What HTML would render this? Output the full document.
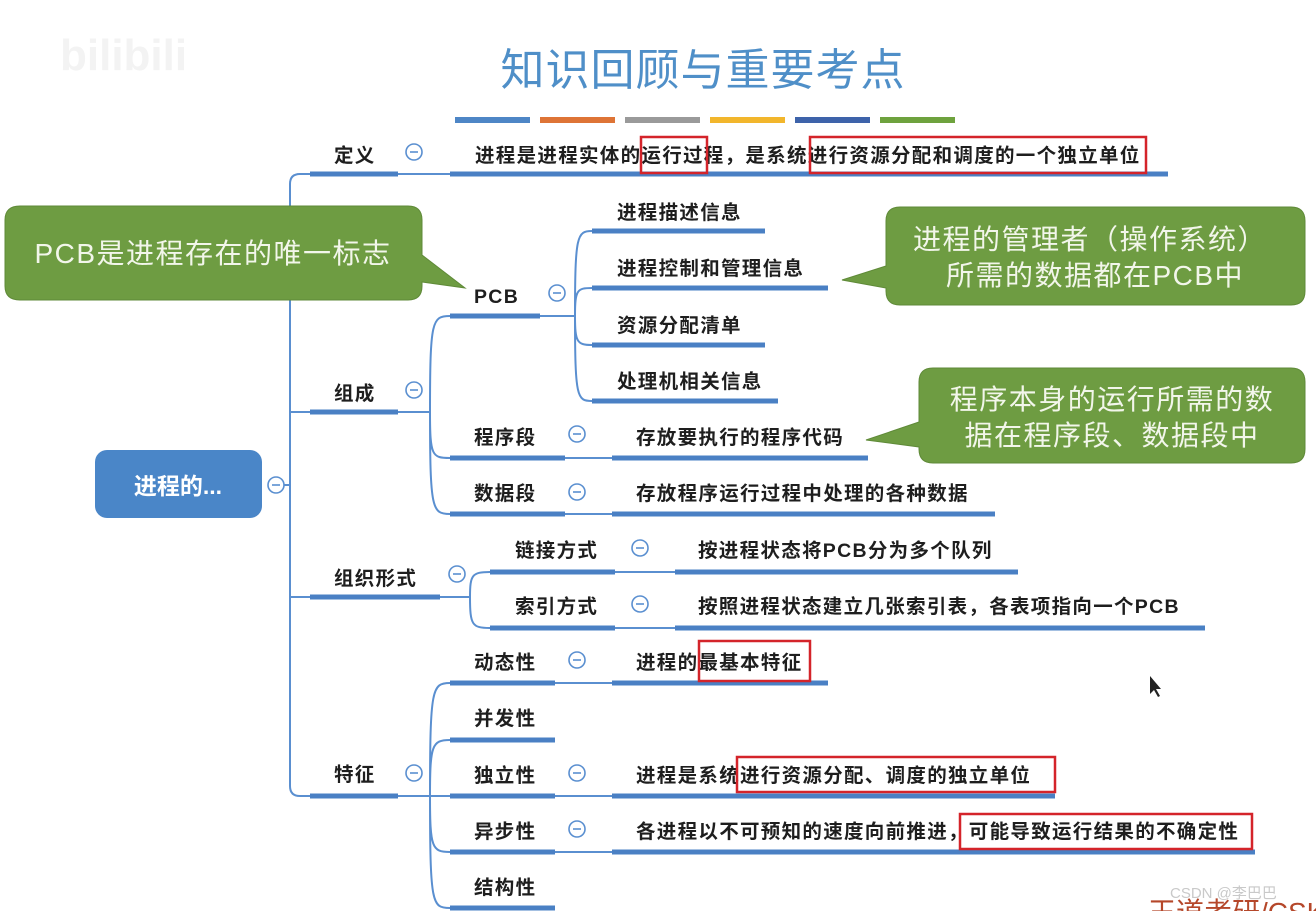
<!DOCTYPE html>
<html><head><meta charset="utf-8"><style>
body{margin:0;background:#fff;width:1316px;height:911px;overflow:hidden}
svg{display:block}
text{font-family:"Liberation Sans","Noto Sans CJK SC",sans-serif}
.n{font-size:19.5px;font-weight:bold;fill:#1e1e1e;letter-spacing:1.3px}
.c{font-size:28px;fill:#f2f6ea;letter-spacing:1.5px}
</style></head><body>
<svg width="1316" height="911" viewBox="0 0 1316 911" xmlns="http://www.w3.org/2000/svg">
<text x="703" y="85" text-anchor="middle" font-size="44" fill="#4f8fc8" letter-spacing="1">知识回顾与重要考点</text>
<g stroke-width="6">
<line x1="455" y1="120" x2="530" y2="120" stroke="#4e86c6"/>
<line x1="540" y1="120" x2="615" y2="120" stroke="#de7436"/>
<line x1="625" y1="120" x2="700" y2="120" stroke="#9a9a9a"/>
<line x1="710" y1="120" x2="785" y2="120" stroke="#f2b62c"/>
<line x1="795" y1="120" x2="870" y2="120" stroke="#3e63aa"/>
<line x1="880" y1="120" x2="955" y2="120" stroke="#6ea23e"/>
</g>
<g fill="none" stroke="#5a8fd0" stroke-width="2">
<path d="M282,485 H290 M290,485 V184 Q290,174 300,174 H310"/>
<path d="M290,485 V786 Q290,796 300,796 H310"/>
<path d="M290,412 H310 M290,597 H310"/>
<line x1="398" y1="174" x2="450" y2="174"/>
<path d="M398,412 H430 M430,412 C430,320 432,316 450,316 M430,412 C430,456 432,458 450,458 M430,412 C430,510 432,514 450,514"/>
<path d="M540,316 H575 M575,316 C575,235 577,231 592,231 M575,316 C575,290 577,288 592,288 M575,316 C575,342 577,345 592,345 M575,316 C575,398 577,401 592,401"/>
<line x1="565" y1="458" x2="612" y2="458"/><line x1="565" y1="514" x2="612" y2="514"/>
<path d="M440,597 H470 M470,597 C470,575 472,572 490,572 M470,597 C470,625 472,628 490,628"/>
<line x1="615" y1="572" x2="675" y2="572"/><line x1="615" y1="628" x2="675" y2="628"/>
<path d="M398,796 H430 M430,796 C430,688 432,683 450,683 M430,796 C430,745 432,740 450,740 M430,796 H450 M430,796 C430,848 432,852 450,852 M430,796 C430,905 432,908 450,908"/>
<line x1="555" y1="683" x2="612" y2="683"/><line x1="555" y1="796" x2="612" y2="796"/><line x1="555" y1="852" x2="612" y2="852"/>
</g>
<g stroke="#4a80c4" stroke-width="5">
<line x1="310" y1="174" x2="398" y2="174"/><line x1="450" y1="174" x2="1168" y2="174"/>
<line x1="310" y1="412" x2="398" y2="412"/>
<line x1="310" y1="597" x2="440" y2="597"/>
<line x1="310" y1="796" x2="398" y2="796"/>
<line x1="450" y1="316" x2="540" y2="316"/>
<line x1="592" y1="231" x2="765" y2="231"/><line x1="592" y1="288" x2="828" y2="288"/>
<line x1="592" y1="345" x2="765" y2="345"/><line x1="592" y1="401" x2="778" y2="401"/>
<line x1="450" y1="458" x2="565" y2="458"/><line x1="612" y1="458" x2="868" y2="458"/>
<line x1="450" y1="514" x2="565" y2="514"/><line x1="612" y1="514" x2="995" y2="514"/>
<line x1="490" y1="572" x2="615" y2="572"/><line x1="675" y1="572" x2="1018" y2="572"/>
<line x1="490" y1="628" x2="615" y2="628"/><line x1="675" y1="628" x2="1205" y2="628"/>
<line x1="450" y1="683" x2="555" y2="683"/><line x1="612" y1="683" x2="828" y2="683"/>
<line x1="450" y1="740" x2="555" y2="740"/>
<line x1="450" y1="796" x2="555" y2="796"/><line x1="612" y1="796" x2="1055" y2="796"/>
<line x1="450" y1="852" x2="555" y2="852"/><line x1="612" y1="852" x2="1255" y2="852"/>
<line x1="450" y1="908" x2="555" y2="908"/>
</g>
<g fill="#fff" stroke="#5a8fd0" stroke-width="1.6">
<circle cx="276" cy="485" r="8"/><circle cx="414" cy="152" r="8"/><circle cx="414" cy="390" r="8"/>
<circle cx="457" cy="574" r="8"/><circle cx="414" cy="773" r="8"/><circle cx="557" cy="293" r="8"/>
<circle cx="577" cy="434" r="8"/><circle cx="577" cy="492" r="8"/><circle cx="640" cy="548" r="8"/>
<circle cx="640" cy="604" r="8"/><circle cx="577" cy="660" r="8"/><circle cx="577" cy="773" r="8"/>
<circle cx="577" cy="829" r="8"/>
</g>
<g stroke="#5a8fd0" stroke-width="1.6">
<line x1="272" y1="485" x2="280" y2="485"/><line x1="410" y1="152" x2="418" y2="152"/><line x1="410" y1="390" x2="418" y2="390"/>
<line x1="453" y1="574" x2="461" y2="574"/><line x1="410" y1="773" x2="418" y2="773"/><line x1="553" y1="293" x2="561" y2="293"/>
<line x1="573" y1="434" x2="581" y2="434"/><line x1="573" y1="492" x2="581" y2="492"/><line x1="636" y1="548" x2="644" y2="548"/>
<line x1="636" y1="604" x2="644" y2="604"/><line x1="573" y1="660" x2="581" y2="660"/><line x1="573" y1="773" x2="581" y2="773"/>
<line x1="573" y1="829" x2="581" y2="829"/>
</g>
<rect x="95" y="450" width="167" height="68" rx="12" fill="#4a86c8"/>
<text x="178" y="494" text-anchor="middle" font-size="23" font-weight="bold" fill="#fff">进程的...</text>
<g class="n">
<text x="334" y="162">定义</text>
<text x="475" y="162">进程是进程实体的运行过程，是系统进行资源分配和调度的一个独立单位</text>
<text x="334" y="400">组成</text>
<text x="474" y="303">PCB</text>
<text x="617" y="219">进程描述信息</text>
<text x="617" y="275">进程控制和管理信息</text>
<text x="617" y="332">资源分配清单</text>
<text x="617" y="388">处理机相关信息</text>
<text x="474" y="444">程序段</text><text x="636" y="444">存放要执行的程序代码</text>
<text x="474" y="500">数据段</text><text x="636" y="500">存放程序运行过程中处理的各种数据</text>
<text x="334" y="585">组织形式</text>
<text x="515" y="557">链接方式</text><text x="698" y="557">按进程状态将PCB分为多个队列</text>
<text x="515" y="613">索引方式</text><text x="698" y="613">按照进程状态建立几张索引表，各表项指向一个PCB</text>
<text x="334" y="781">特征</text>
<text x="474" y="669">动态性</text><text x="636" y="669">进程的最基本特征</text>
<text x="474" y="725">并发性</text>
<text x="474" y="782">独立性</text><text x="636" y="782">进程是系统进行资源分配、调度的独立单位</text>
<text x="474" y="838">异步性</text><text x="636" y="838">各进程以不可预知的速度向前推进，可能导致运行结果的不确定性</text>
<text x="474" y="894">结构性</text>
</g>
<g fill="none" stroke="#d4242a" stroke-width="2.5">
<rect x="641" y="137" width="66" height="36"/>
<rect x="810" y="137" width="336" height="36"/>
<rect x="699" y="641" width="111" height="40"/>
<rect x="737" y="757" width="318" height="35"/>
<rect x="960" y="814" width="292" height="35"/>
</g>
<g fill="#6e9c42" stroke="#5f8a38" stroke-width="1">
<path d="M20,206 H408 Q422,206 422,220 V255 L465,288 L422,282 V286 Q422,300 408,300 H20 Q5,300 5,286 V220 Q5,206 20,206 Z"/>
<path d="M900,207 H1291 Q1305,207 1305,221 V291 Q1305,305 1291,305 H900 Q886,305 886,291 V288 L842,280 L886,266 V221 Q886,207 900,207 Z"/>
<path d="M933,368 H1291 Q1305,368 1305,382 V449 Q1305,463 1291,463 H933 Q919,463 919,449 V447 L866,440 L919,422 V382 Q919,368 933,368 Z"/>
</g>
<text class="c" x="213" y="263" text-anchor="middle">PCB是进程存在的唯一标志</text>
<text class="c" x="1090" y="249" text-anchor="middle">进程的管理者（操作系统）</text>
<text class="c" x="1095" y="285" text-anchor="middle">所需的数据都在PCB中</text>
<text class="c" x="1112" y="409" text-anchor="middle">程序本身的运行所需的数</text>
<text class="c" x="1112" y="445" text-anchor="middle">据在程序段、数据段中</text>
<text x="1170" y="898" font-size="15" fill="#c9c9c9">CSDN @李巴巴</text>
<text x="1148" y="922" font-size="28" fill="#b5472a">王道考研/CSK</text>
<text x="60" y="70" font-size="44" font-weight="bold" fill="#f3f3f3">bilibili</text>
<path d="M1150,676 L1150,694 L1154,690 L1158,697 L1160,696 L1156,689 L1161,689 Z" fill="#222"/>
</svg>
</body></html>
